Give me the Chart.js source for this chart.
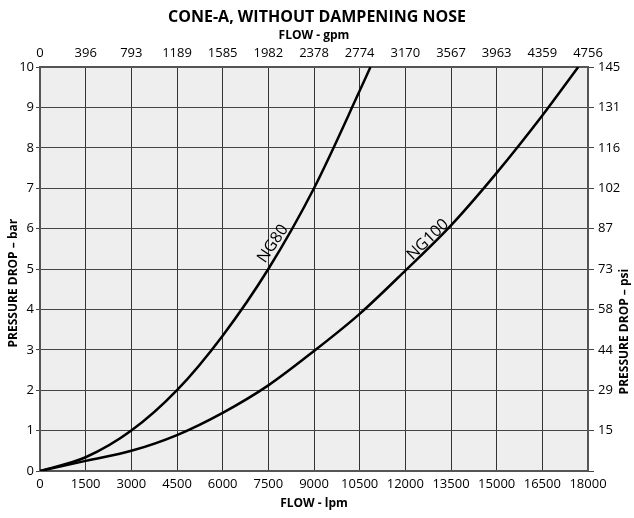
<!DOCTYPE html>
<html>
<head>
<meta charset="utf-8">
<script src="https://cdn.jsdelivr.net/npm/chart.js@4/dist/chart.umd.min.js"></script>
<style>
  html, body { margin: 0; padding: 0; background: #fff; }
</style>
</head>
<body>
<canvas id="coneChart" width="634" height="518"></canvas>
<script>
// flow in lpm (bottom axis), pressure drop in bar (left axis)
const lpmLabels = ['0', '1500', '3000', '4500', '6000', '7500', '9000', '10500', '12000', '13500', '15000', '16500', '18000'];
const gpmLabels = ['0', '396', '793', '1189', '1585', '1982', '2378', '2774', '3170', '3567', '3963', '4359', '4756'];
const psiLabels = ['', '15', '29', '44', '58', '73', '87', '102', '116', '131', '145'];

const ng80Flow = [0, 1500, 3000, 4500, 6000, 7500, 9000, 10500, 10855];
const ng80Bar = [0, 0.34, 1.0, 2.0, 3.35, 5.0, 7.0, 9.41, 10];

const ng100Flow = [0, 1500, 3000, 4500, 6000, 7500, 9000, 10500, 12000, 13500, 15000, 16500, 17680];
const ng100Bar = [0, 0.25, 0.5, 0.89, 1.44, 2.12, 2.97, 3.89, 4.96, 6.08, 7.38, 8.8, 10];

const seriesNames = ['NG80', 'NG100'];

const FONT = "'Open Sans', 'Noto Sans', sans-serif";

function toPoints(xs, ys) {
  return xs.map((x, i) => ({ x: x, y: ys[i] }));
}

const decor = {
  id: 'decor',
  beforeDraw(chart) {
    const { ctx, chartArea: a } = chart;
    ctx.save();
    ctx.fillStyle = '#eeeeee';
    ctx.fillRect(a.left, a.top, a.right - a.left, a.bottom - a.top);
    ctx.restore();
  },
  afterDatasetsDraw(chart) {
    const { ctx } = chart;
    const xs = chart.scales.x, ys = chart.scales.y;
    // label anchors on the curves (lpm, bar) and text angle
    const tags = [
      { text: seriesNames[0], fx: 7861, fy: 5.52, ang: -56 },
      { text: seriesNames[1], fx: 12913, fy: 5.59, ang: -44 }
    ];
    ctx.save();
    ctx.fillStyle = '#000';
    ctx.font = '16px ' + FONT;
    ctx.textAlign = 'center';
    ctx.textBaseline = 'alphabetic';
    tags.forEach(t => {
      ctx.save();
      ctx.translate(xs.getPixelForValue(t.fx), ys.getPixelForValue(t.fy));
      ctx.rotate(t.ang * Math.PI / 180);
      ctx.fillText(t.text, 0, -3);
      ctx.restore();
    });
    ctx.restore();
  },
  afterDraw(chart) {
    const { ctx, chartArea: a } = chart;
    const h = a.bottom - a.top;
    ctx.save();
    ctx.fillStyle = '#000';
    ctx.font = 'bold 12px ' + FONT;
    ctx.textAlign = 'center';
    ctx.textBaseline = 'middle';
    ctx.translate(14, a.top + 0.535 * h);
    ctx.rotate(-Math.PI / 2);
    ctx.fillText('PRESSURE DROP – bar', 0, 0);
    ctx.restore();
    ctx.save();
    ctx.fillStyle = '#000';
    ctx.font = 'bold 12px ' + FONT;
    ctx.textAlign = 'center';
    ctx.textBaseline = 'middle';
    ctx.translate(625, a.top + 0.655 * h);
    ctx.rotate(-Math.PI / 2);
    ctx.fillText('PRESSURE DROP – psi', 0, 0);
    ctx.restore();
  }
};

const ctx = document.getElementById('coneChart');

new Chart(ctx, {
  type: 'line',
  data: {
    datasets: [{
      label: seriesNames[0],
      data: toPoints(ng80Flow, ng80Bar),
      borderColor: '#000',
      borderWidth: 2.5,
      pointRadius: 0,
      cubicInterpolationMode: 'monotone',
      fill: false
    }, {
      label: seriesNames[1],
      data: toPoints(ng100Flow, ng100Bar),
      borderColor: '#000',
      borderWidth: 2.5,
      pointRadius: 0,
      cubicInterpolationMode: 'monotone',
      fill: false
    }]
  },
  options: {
    responsive: false,
    animation: false,
    layout: { padding: 0 },
    plugins: {
      legend: { display: false },
      tooltip: { enabled: false },
      title: {
        display: true,
        text: 'CONE-A, WITHOUT DAMPENING NOSE',
        color: '#000',
        font: { family: FONT, size: 16, weight: 'bold' },
        padding: { top: 8, bottom: 0 }
      }
    },
    scales: {
      x: {
        type: 'linear',
        position: 'bottom',
        min: 0,
        max: 18000,
        ticks: {
          stepSize: 1500,
          autoSkip: false,
          maxRotation: 0,
          padding: 5,
          color: '#000',
          font: { family: FONT, size: 13 },
          callback: (v, i) => lpmLabels[i]
        },
        grid: { color: '#333', lineWidth: 1, drawTicks: false },
        border: { color: '#555', width: 2 },
        title: {
          display: true,
          text: 'FLOW - lpm',
          color: '#000',
          font: { family: FONT, size: 12, weight: 'bold' },
          padding: { top: 0, bottom: 7 }
        },
        afterFit(scale) { scale.height = 47; }
      },
      x2: {
        type: 'linear',
        position: 'top',
        min: 0,
        max: 18000,
        ticks: {
          stepSize: 1500,
          autoSkip: false,
          maxRotation: 0,
          padding: 6,
          color: '#000',
          font: { family: FONT, size: 13 },
          callback: (v, i) => gpmLabels[i]
        },
        grid: { display: false, drawTicks: false },
        border: { color: '#555', width: 2 },
        title: {
          display: true,
          text: 'FLOW - gpm',
          color: '#000',
          font: { family: FONT, size: 12, weight: 'bold' },
          padding: { top: 1, bottom: 0 }
        },
        afterFit(scale) { scale.height = 39.8; }
      },
      y: {
        type: 'linear',
        position: 'left',
        min: 0,
        max: 10,
        ticks: {
          stepSize: 1,
          padding: 2,
          color: '#000',
          font: { family: FONT, size: 13 }
        },
        grid: { color: '#444', lineWidth: 1, tickLength: 4 },
        border: { color: '#555', width: 2 },
        afterFit(scale) { scale.width = 40; }
      },
      y2: {
        type: 'linear',
        position: 'right',
        min: 0,
        max: 10,
        ticks: {
          stepSize: 1,
          padding: 4,
          color: '#000',
          font: { family: FONT, size: 13 },
          callback: (v, i) => psiLabels[i]
        },
        grid: { drawOnChartArea: false, color: '#444', tickLength: 6 },
        border: { color: '#555', width: 2 },
        afterFit(scale) { scale.width = 46; }
      }
    }
  },
  plugins: [decor]
});
</script>
</body>
</html>
